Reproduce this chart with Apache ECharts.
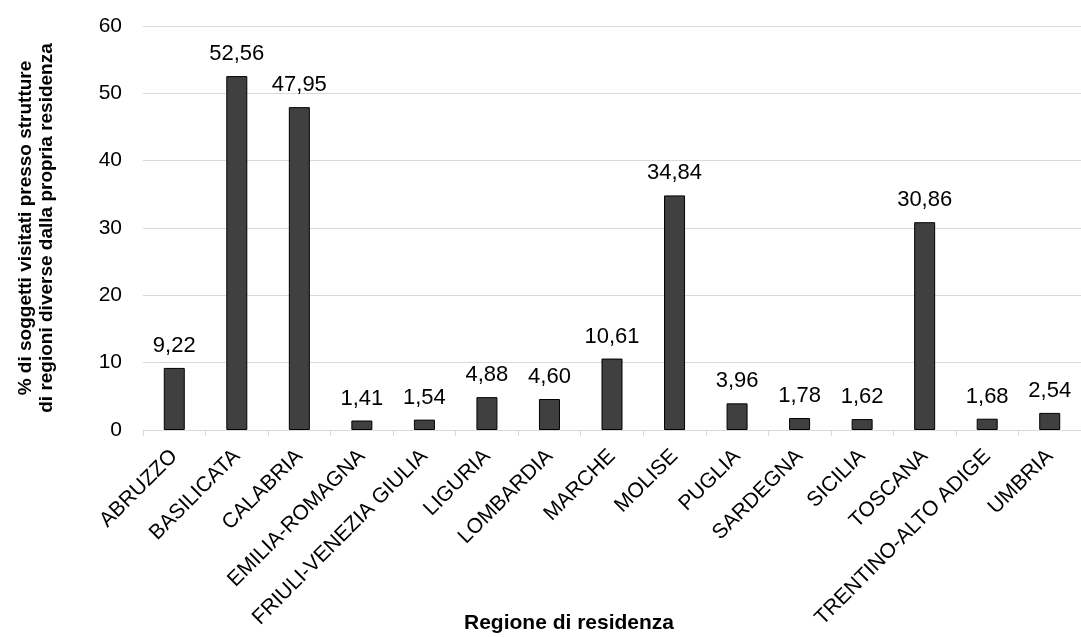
<!DOCTYPE html>
<html>
<head>
<meta charset="utf-8">
<script src="https://cdn.jsdelivr.net/npm/echarts@6/dist/echarts.min.js"></script>
<style>
  html, body { margin: 0; padding: 0; background: #fff; }
  #chart { width: 1081px; height: 637px; }
</style>
</head>
<body>
<div id="chart"></div>
<script>
// Regions of residence and share of patients visited outside their own region
const regions = [
  'ABRUZZO', 'BASILICATA', 'CALABRIA', 'EMILIA-ROMAGNA', 'FRIULI-VENEZIA GIULIA',
  'LIGURIA', 'LOMBARDIA', 'MARCHE', 'MOLISE', 'PUGLIA', 'SARDEGNA', 'SICILIA',
  'TOSCANA', 'TRENTINO-ALTO ADIGE', 'UMBRIA'
];
const percentOutside = [
  9.22, 52.56, 47.95, 1.41, 1.54, 4.88, 4.60, 10.61, 34.84, 3.96, 1.78, 1.62,
  30.86, 1.68, 2.54
];
const yTicks = [0, 10, 20, 30, 40, 50, 60];
const yTitle = '% di soggetti visitati presso strutture\ndi regioni diverse dalla propria residenza';
const xTitle = 'Regione di residenza';

const fontFamily = '"Liberation Sans", Arial, sans-serif';
const chart = echarts.init(document.getElementById('chart'), null, { renderer: 'canvas' });

chart.setOption({
  animation: false,
  textStyle: { fontFamily },
  // the last category band runs past the right edge of the page
  grid: { left: 143, right: -11, top: 26, bottom: 207, containLabel: false },
  xAxis: {
    type: 'category',
    data: regions,
    axisLine: { lineStyle: { color: '#d9d9d9', width: 1 } },
    axisTick: { show: true, length: 6, lineStyle: { color: '#d9d9d9' } },
    axisLabel: {
      rotate: 45, interval: 0, margin: 23,
      fontSize: 21, color: '#000', fontFamily
    }
  },
  yAxis: {
    type: 'value',
    min: yTicks[0], max: yTicks[yTicks.length - 1], interval: yTicks[1] - yTicks[0],
    name: yTitle,
    nameLocation: 'middle',
    nameRotate: 90,
    nameGap: 86,
    nameTextStyle: { fontSize: 19, fontWeight: 'bold', color: '#000', lineHeight: 21, fontFamily },
    axisLine: { show: false },
    axisTick: { show: false },
    axisLabel: { fontSize: 21, color: '#000', margin: 21, fontFamily },
    splitLine: { lineStyle: { color: '#d9d9d9', width: 1 } }
  },
  graphic: [{
    type: 'text',
    x: 569,
    y: 613,
    style: {
      text: xTitle, font: 'bold 21px ' + fontFamily, fill: '#000',
      textAlign: 'center', textVerticalAlign: 'top'
    }
  }],
  series: [{
    type: 'bar',
    data: percentOutside,
    barWidth: 21,
    itemStyle: { color: '#404040', borderColor: '#000', borderWidth: 1 },
    label: {
      show: true,
      position: 'top',
      distance: 11,
      fontSize: 22,
      color: '#000',
      fontFamily,
      formatter: p => p.value.toFixed(2).replace('.', ',')
    }
  }]
});
</script>
</body>
</html>
